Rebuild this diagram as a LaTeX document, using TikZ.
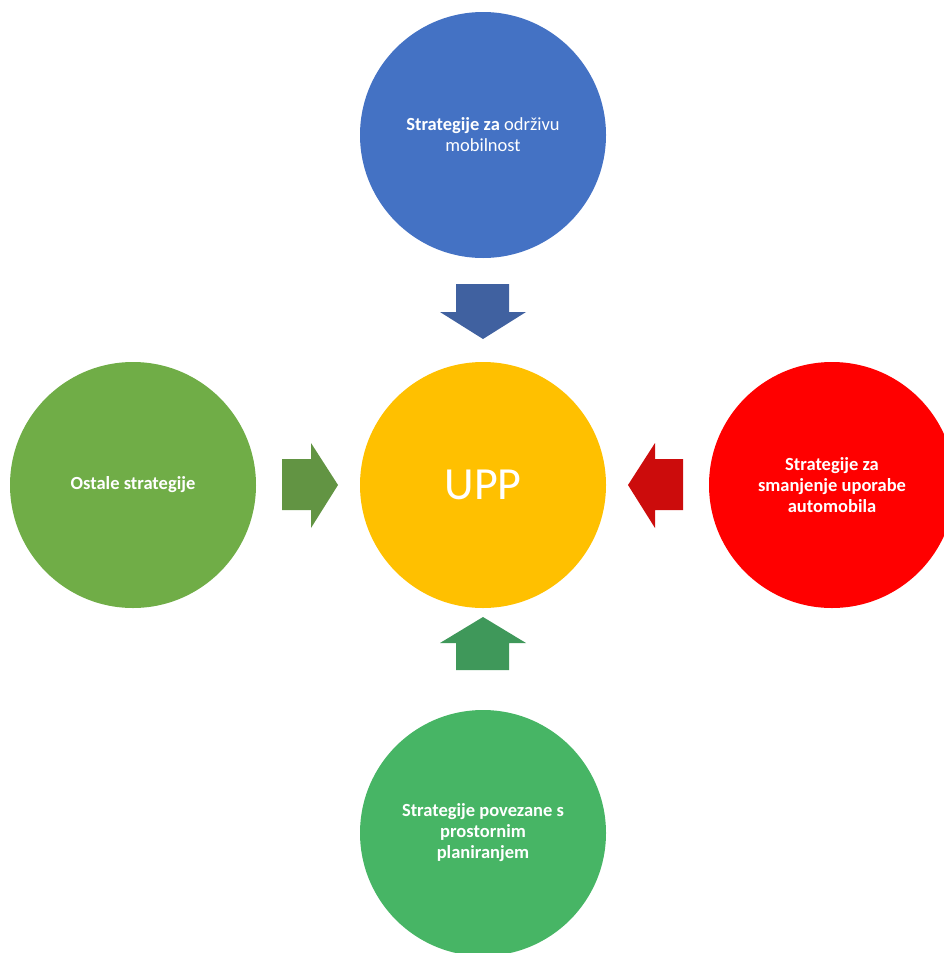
\documentclass[tikz,border=0pt]{standalone}
\usepackage{fontspec}
\setmainfont{Carlito}
\definecolor{cblue}{HTML}{4472C4}
\definecolor{ablue}{HTML}{4061A0}
\definecolor{cgold}{HTML}{FFC000}
\definecolor{cred}{HTML}{FF0000}
\definecolor{ared}{HTML}{CC0C0C}
\definecolor{clime}{HTML}{70AD47}
\definecolor{alime}{HTML}{629443}
\definecolor{cgreen}{HTML}{47B565}
\definecolor{agreen}{HTML}{3F985A}
\begin{document}
\begin{tikzpicture}[x=1pt,y=-1pt,
  disc/.style={circle,minimum size=246pt,inner sep=0pt,text=white,
    align=center,font=\fontsize{18.5}{21}\selectfont}]
\useasboundingbox (0,0) rectangle (944,953);
\clip (0,0) rectangle (944,953);
% circles
\node[disc,fill=cblue]  (top)    at (483,135) {\textbf{Strategije za} održivu\\mobilnost};
\node[disc,fill=cgold,font=\fontsize{46}{50}\selectfont] (upp) at (483,485) {UPP};
\node[disc,fill=clime]  (left)   at (133,485) {\textbf{Ostale strategije}};
\node[disc,fill=cred]   (right)  at (832,485) {\textbf{Strategije za}\\\textbf{smanjenje uporabe}\\\textbf{automobila}};
\node[disc,fill=cgreen] (bottom) at (483,833) {\textbf{Strategije povezane s}\\\textbf{prostornim}\\\textbf{planiranjem}};
% block arrows pointing at the centre
\fill[ablue]  (456,284) -- (509,284) -- (509,312) -- (526,312) -- (483,339)
  -- (440,312) -- (456,312) -- cycle;
\fill[agreen] (456,670) -- (509,670) -- (509,643) -- (526,643) -- (483,617)
  -- (440,643) -- (456,643) -- cycle;
\fill[alime]  (282,459) -- (311,459) -- (311,443) -- (338,485) -- (311,528)
  -- (311,510) -- (282,510) -- cycle;
\fill[ared]   (683,459) -- (655,459) -- (655,443) -- (628,485) -- (655,528)
  -- (655,510) -- (683,510) -- cycle;
\end{tikzpicture}
\end{document}
